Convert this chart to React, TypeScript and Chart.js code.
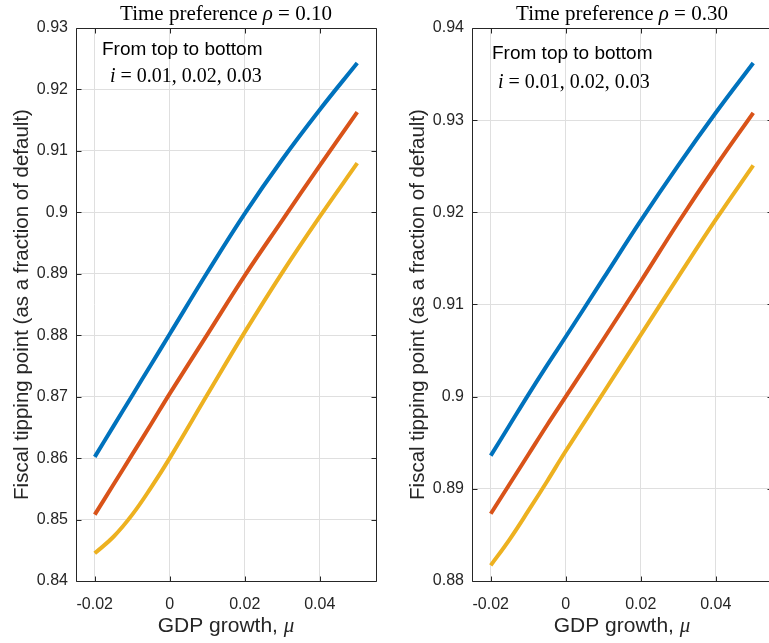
import React, { useEffect, useRef } from "react";
import { Chart, registerables } from "chart.js";

Chart.register(...registerables);

// ---------------- data ----------------
const mu = [-0.02, -0.015, -0.01, -0.005, 0, 0.01, 0.02, 0.03, 0.04, 0.05];

// rho = 0.10
const rho10_i001 = [0.8602, 0.8652, 0.8702, 0.8752, 0.8802, 0.8902, 0.8998, 0.9086, 0.9167, 0.9243];
const rho10_i002 = [0.8508, 0.8557, 0.8606, 0.8655, 0.8705, 0.8801, 0.8897, 0.8987, 0.9076, 0.9163];
const rho10_i003 = [0.8445, 0.8472, 0.8508, 0.8552, 0.8600, 0.8703, 0.8805, 0.8902, 0.8993, 0.9080];

// rho = 0.30
const rho30_i001 = [0.8936, 0.8969, 0.9002, 0.9034, 0.9065, 0.9128, 0.9191, 0.9251, 0.9308, 0.9362];
const rho30_i002 = [0.8873, 0.8905, 0.8937, 0.8969, 0.9000, 0.9062, 0.9125, 0.9189, 0.9250, 0.9308];
const rho30_i003 = [0.8817, 0.8845, 0.8876, 0.8908, 0.8941, 0.9004, 0.9067, 0.9130, 0.9192, 0.9251];

const xTicks = [-0.02, 0, 0.02, 0.04];
const xTickLabels = ["-0.02", "0", "0.02", "0.04"];

const yTicksLeft = [0.84, 0.85, 0.86, 0.87, 0.88, 0.89, 0.9, 0.91, 0.92, 0.93];
const yTickLabelsLeft = ["0.84", "0.85", "0.86", "0.87", "0.88", "0.89", "0.9", "0.91", "0.92", "0.93"];
const yTicksRight = [0.88, 0.89, 0.9, 0.91, 0.92, 0.93, 0.94];
const yTickLabelsRight = ["0.88", "0.89", "0.9", "0.91", "0.92", "0.93", "0.94"];

const rhoLabels = ["0.10", "0.30"];
const iValuesText = "0.01, 0.02, 0.03";
const annotationText = "From top to bottom";
const yAxisTitle = "Fiscal tipping point (as a fraction of default)";
const xAxisTitle = "GDP growth, ";

// ---------------- styles ----------------
const SANS = '"Liberation Sans", Arial, Helvetica, sans-serif';
const SERIF = '"Liberation Serif", "Times New Roman", serif';
const AXIS = "#262626";
const GRID = "#dfdfdf";
const COLORS = ["#0072BD", "#D95319", "#EDB120"];
const CANVAS_W = 385;
const CANVAS_H = 643;

type Seg = { t: string; f: string };

function drawRich(ctx: CanvasRenderingContext2D, segs: Seg[], x: number, y: number, align: "left" | "center") {
  let total = 0;
  for (const s of segs) {
    ctx.font = s.f;
    total += ctx.measureText(s.t).width;
  }
  let cx = align === "center" ? x - total / 2 : x;
  ctx.textAlign = "left";
  ctx.textBaseline = "alphabetic";
  for (const s of segs) {
    ctx.font = s.f;
    ctx.fillText(s.t, cx, y);
    cx += ctx.measureText(s.t).width;
  }
}

const decorPlugin = {
  id: "panelDecor",
  afterDraw(chart: any, _args: any, opts: any) {
    const { ctx, chartArea: a } = chart;
    const xs = chart.scales.x;
    const ys = chart.scales.y;
    ctx.save();
    // box
    const L = Math.floor(a.left) + 0.5;
    const R = Math.floor(a.right) + 0.5;
    const T = Math.floor(a.top) + 0.5;
    const B = Math.floor(a.bottom) + 0.5;
    ctx.strokeStyle = AXIS;
    ctx.lineWidth = 1;
    ctx.beginPath();
    ctx.rect(L, T, R - L, B - T);
    ctx.stroke();
    // inward ticks
    const tl = 5;
    ctx.beginPath();
    for (const t of xs.ticks) {
      const px = Math.round(xs.getPixelForValue(t.value)) + 0.5;
      ctx.moveTo(px, B);
      ctx.lineTo(px, B - tl);
      ctx.moveTo(px, T);
      ctx.lineTo(px, T + tl);
    }
    for (const t of ys.ticks) {
      const py = Math.round(ys.getPixelForValue(t.value)) + 0.5;
      ctx.moveTo(L, py);
      ctx.lineTo(L + tl, py);
      ctx.moveTo(R, py);
      ctx.lineTo(R - tl, py);
    }
    ctx.stroke();

    const cxMid = (a.left + a.right) / 2;
    const cyMid = (a.top + a.bottom) / 2;

    // title
    ctx.fillStyle = "#000";
    drawRich(
      ctx,
      [
        { t: "Time preference ", f: `21px ${SERIF}` },
        { t: "ρ", f: `italic 21px ${SERIF}` },
        { t: " = " + opts.rho, f: `21px ${SERIF}` },
      ],
      cxMid,
      19.5,
      "center"
    );

    // annotations
    drawRich(ctx, [{ t: annotationText, f: `19px ${SANS}` }], a.left + opts.annX, opts.annY, "left");
    drawRich(
      ctx,
      [
        { t: "i", f: `italic 20px ${SERIF}` },
        { t: " = " + iValuesText, f: `20px ${SERIF}` },
      ],
      a.left + opts.iX,
      opts.iY,
      "left"
    );

    // x axis title
    ctx.fillStyle = AXIS;
    drawRich(
      ctx,
      [
        { t: xAxisTitle, f: `21px ${SANS}` },
        { t: "μ", f: `italic 21px ${SERIF}` },
      ],
      cxMid,
      632,
      "center"
    );

    // y axis title
    ctx.save();
    ctx.translate(a.left - 48.5, cyMid);
    ctx.rotate(-Math.PI / 2);
    ctx.font = `20.5px ${SANS}`;
    ctx.textAlign = "center";
    ctx.textBaseline = "alphabetic";
    ctx.fillText(yAxisTitle, 0, 0);
    ctx.restore();

    ctx.restore();
  },
};

type PanelProps = {
  left: number;
  series: number[][];
  yMin: number;
  yMax: number;
  yTicks: number[];
  yTickLabels: string[];
  rho: string;
  annX: number;
  annY: number;
  iX: number;
  iY: number;
};

function Panel(p: PanelProps) {
  const ref = useRef<HTMLCanvasElement | null>(null);
  useEffect(() => {
    if (!ref.current) return;
    const chart = new Chart(ref.current, {
      type: "line",
      data: {
        datasets: p.series.map((vals, k) => ({
          label: "i" + k,
          data: mu.map((m, j) => ({ x: m, y: vals[j] })),
          borderColor: COLORS[k],
          backgroundColor: COLORS[k],
          borderWidth: 4,
          pointRadius: 0,
          fill: false,
          tension: 0.4,
        })),
      },
      options: {
        responsive: false,
        animation: false,
        devicePixelRatio: 1,
        layout: { padding: { left: 0, top: 28, right: 9, bottom: 0 } },
        plugins: {
          legend: { display: false },
          tooltip: { enabled: false },
          title: { display: false },
          panelDecor: { rho: p.rho, annX: p.annX, annY: p.annY, iX: p.iX, iY: p.iY },
        } as any,
        scales: {
          x: {
            type: "linear",
            min: -0.025,
            max: 0.055,
            afterBuildTicks: (scale: any) => {
              scale.ticks = xTicks.map((v) => ({ value: v }));
            },
            afterFit: (scale: any) => {
              scale.height = 62;
            },
            grid: { color: GRID, lineWidth: 1, drawTicks: false },
            border: { display: false },
            ticks: {
              color: AXIS,
              font: { family: SANS, size: 16 },
              padding: 14,
              maxRotation: 0,
              autoSkip: false,
              callback: (_v: any, i: number) => xTickLabels[i],
            },
          },
          y: {
            type: "linear",
            min: p.yMin,
            max: p.yMax,
            afterBuildTicks: (scale: any) => {
              scale.ticks = p.yTicks.map((v) => ({ value: v }));
            },
            afterFit: (scale: any) => {
              scale.width = 76;
            },
            grid: { color: GRID, lineWidth: 1, drawTicks: false },
            border: { display: false },
            ticks: {
              color: AXIS,
              font: { family: SANS, size: 16 },
              padding: 8,
              autoSkip: false,
              callback: (_v: any, i: number) => p.yTickLabels[i],
            },
          },
        },
      },
      plugins: [decorPlugin],
    } as any);
    return () => chart.destroy();
  }, []);
  return (
    <canvas
      ref={ref}
      width={CANVAS_W}
      height={CANVAS_H}
      style={{ position: "absolute", left: p.left, top: 0, width: CANVAS_W, height: CANVAS_H }}
    />
  );
}

export default function App() {
  return (
    <div
      style={{
        position: "absolute",
        left: 0,
        top: 0,
        width: 769,
        height: 643,
        overflow: "hidden",
        background: "#fff",
      }}
    >
      <Panel
        left={0}
        series={[rho10_i001, rho10_i002, rho10_i003]}
        yMin={0.84}
        yMax={0.93}
        yTicks={yTicksLeft}
        yTickLabels={yTickLabelsLeft}
        rho={rhoLabels[0]}
        annX={26}
        annY={55}
        iX={34}
        iY={81.5}
      />
      <Panel
        left={396}
        series={[rho30_i001, rho30_i002, rho30_i003]}
        yMin={0.88}
        yMax={0.94}
        yTicks={yTicksRight}
        yTickLabels={yTickLabelsRight}
        rho={rhoLabels[1]}
        annX={20}
        annY={58.5}
        iX={26}
        iY={88}
      />
    </div>
  );
}
